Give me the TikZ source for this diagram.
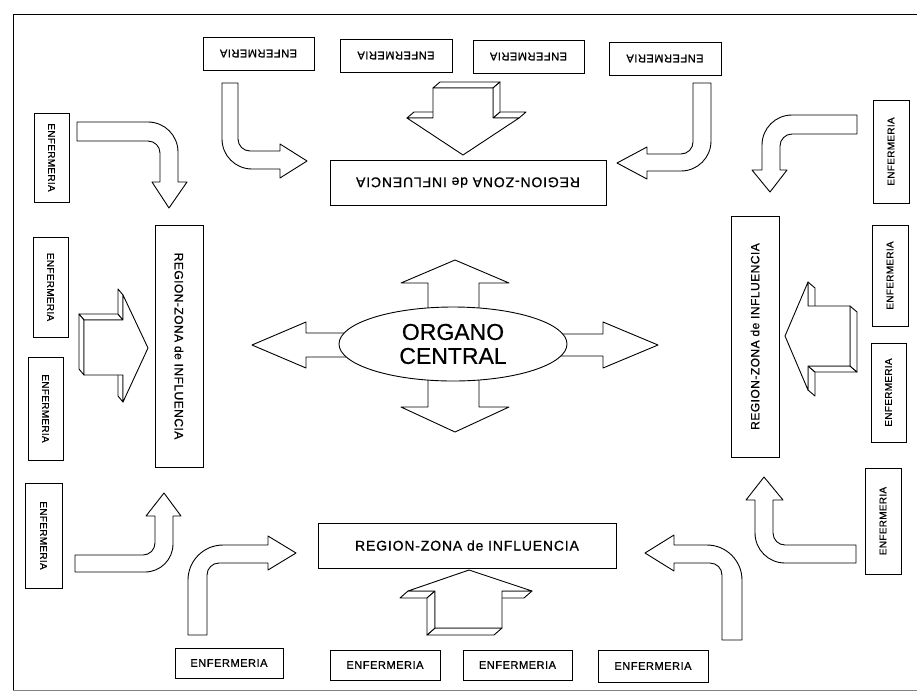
\documentclass[tikz,border=0pt]{standalone}
\usepackage{fontspec}
\usepackage{graphicx}
\setmainfont{Liberation Sans}
\newfontfamily\enffont[LetterSpace=5,FakeBold=0.8]{Liberation Sans}
\newfontfamily\enfsidefont[LetterSpace=3,FakeBold=0.8]{Liberation Sans}
\newfontfamily\regfont[LetterSpace=6,FakeBold=0.8]{Liberation Sans}
\newfontfamily\regsidefont[LetterSpace=4,FakeBold=0.8]{Liberation Sans}
\newfontfamily\ocfont[FakeBold=0.6]{Liberation Sans}
\usetikzlibrary{shapes.geometric}
\tikzset{
  ln/.style={line width=0.9pt},
  enfbox/.style={draw, ln, fill=white, inner sep=0pt, font=\enffont\fontsize{11}{13}\selectfont},
  enfside/.style={enfbox, font=\enfsidefont\fontsize{10}{12}\selectfont},
  regbox/.style={draw, ln, fill=white, inner sep=0pt, font=\regfont\fontsize{14}{16}\selectfont},
  regside/.style={regbox, font=\regsidefont\fontsize{12}{14}\selectfont},
  blk/.style={draw, ln, fill=white, line join=round},
  frameline/.style={line width=0.7pt},
}
\begin{document}
\begin{tikzpicture}[x=1pt,y=-1pt]
\useasboundingbox (0,0) rectangle (917,697);
% frame
\draw[frameline] (13,690) -- (13,14) -- (917,14);
\draw[frameline, gray] (13,690) -- (917,690);

% ---------- top ----------
\node[enfbox, minimum width=111, minimum height=33] (t1) at (258.5,53.5) {\rotatebox{180}{ENFERMERIA}};
\node[enfbox, minimum width=112, minimum height=33] (t2) at (396,55.5) {\rotatebox{180}{ENFERMERIA}};
\node[enfbox, minimum width=111, minimum height=33] (t3) at (528.5,56.5) {\rotatebox{180}{ENFERMERIA}};
\node[enfbox, minimum width=112, minimum height=33] (t4) at (665,58.5) {\rotatebox{180}{ENFERMERIA}};
\node[regbox, minimum width=276, minimum height=45] (rt) at (468,182.5) {\rotatebox{180}{REGION-ZONA de INFLUENCIA}};

% top-left curved arrow
\draw[blk] (222,83) -- (238,83) -- (238,139) .. controls (238,145.6) and (243.4,151) .. (250,151)
  -- (280,151) -- (280,144) -- (307,161) -- (280,178) -- (280,169) -- (252,169)
  .. controls (235.4,169) and (222,155.6) .. (222,139) -- cycle;
% top-right curved arrow
\draw[blk] (693,83) -- (711,83) -- (711,141) .. controls (711,157.6) and (697.6,171) .. (681,171)
  -- (647,171) -- (647,179) -- (617,163) -- (647,147) -- (647,154) -- (681,154)
  .. controls (687.6,154) and (693,148.6) .. (693,142) -- cycle;
% top 3D arrow (down)
\draw[blk] (407,118) -- (433,118) -- (440,112) -- (414,112) -- cycle;
\draw[blk] (433,88) -- (493,88) -- (500,82) -- (440,82) -- cycle;
\draw[blk] (493,118) -- (519,118) -- (526,112) -- (500,112) -- cycle;
\draw[blk] (493,88) -- (493,118) -- (500,112) -- (500,82) -- cycle;
\draw[blk] (433,88) -- (493,88) -- (493,118) -- (519,118) -- (463,155) -- (407,118) -- (433,118) -- cycle;

% ---------- left ----------
\node[enfside, minimum width=35, minimum height=89] (l1) at (51.5,157.5) {\rotatebox{-90}{ENFERMERIA}};
\node[enfside, minimum width=35, minimum height=100] (l2) at (50.5,287) {\rotatebox{-90}{ENFERMERIA}};
\node[enfside, minimum width=35, minimum height=103] (l3) at (45.5,408.5) {\rotatebox{-90}{ENFERMERIA}};
\node[enfside, minimum width=37, minimum height=105] (l4) at (43.5,535.5) {\rotatebox{-90}{ENFERMERIA}};
\node[regside, minimum width=48, minimum height=242] (rl) at (179,346) {\rotatebox{-90}{REGION-ZONA de INFLUENCIA}};

% left-top curved arrow
\draw[blk] (77,122) -- (148,122) .. controls (164.6,122) and (178,135.4) .. (178,152)
  -- (178,182) -- (187,182) -- (169,208) -- (152,182) -- (160,182) -- (160,153)
  .. controls (160,146.4) and (154.6,141) .. (148,141) -- (77,141) -- cycle;
% left-bottom curved arrow
\draw[blk] (75,555) -- (143,555) .. controls (149.6,555) and (155,549.6) .. (155,543)
  -- (155,516) -- (146,516) -- (164,493) -- (181,516) -- (173,516) -- (173,544)
  .. controls (173,559.5) and (160.5,572) .. (145,572) -- (75,572) -- cycle;
% left 3D arrow (right)
\draw[blk] (123,375) -- (123,402) -- (118,396) -- (118,369) -- cycle;
\draw[blk] (84,320) -- (123,320) -- (118,314) -- (79,314) -- cycle;
\draw[blk] (123,295) -- (123,320) -- (118,314) -- (118,289) -- cycle;
\draw[blk] (84,320) -- (84,375) -- (79,369) -- (79,314) -- cycle;
\draw[blk] (148,348) -- (123,295) -- (123,320) -- (84,320) -- (84,375) -- (123,375) -- (123,402) -- cycle;

% ---------- right ----------
\node[enfside, minimum width=36, minimum height=103] (r1) at (891,151.5) {\rotatebox{90}{ENFERMERIA}};
\node[enfside, minimum width=36, minimum height=101] (r2) at (890,275.5) {\rotatebox{90}{ENFERMERIA}};
\node[enfside, minimum width=35, minimum height=99] (r3) at (888.5,392.5) {\rotatebox{90}{ENFERMERIA}};
\node[enfside, minimum width=36, minimum height=106] (r4) at (883,521) {\rotatebox{90}{ENFERMERIA}};
\node[regside, minimum width=48, minimum height=241] (rr) at (755,336.5) {\rotatebox{90}{REGION-ZONA de INFLUENCIA}};

% right-top curved arrow
\draw[blk] (857,115) -- (792,115) .. controls (775.4,115) and (762,128.4) .. (762,145)
  -- (762,170) -- (752,170) -- (770,192) -- (787,170) -- (780,170) -- (780,146)
  .. controls (780,139.4) and (785.4,134) .. (792,134) -- (857,134) -- cycle;
% right-bottom curved arrow
\draw[blk] (856,545) -- (785,545) .. controls (778.4,545) and (773,539.6) .. (773,533)
  -- (773,500) -- (783,500) -- (764,477) -- (746,500) -- (755,500) -- (755,533)
  .. controls (755,549.6) and (768.4,563) .. (785,563) -- (856,563) -- cycle;
% right 3D arrow (left)
\draw[blk] (808,282) -- (808,306) -- (815,312) -- (815,288) -- cycle;
\draw[blk] (808,366) -- (808,390) -- (815,396) -- (815,372) -- cycle;
\draw[blk] (808,366) -- (850,366) -- (857,372) -- (815,372) -- cycle;
\draw[blk] (850,306) -- (850,366) -- (857,372) -- (857,312) -- cycle;
\draw[blk] (785,336) -- (808,282) -- (808,306) -- (850,306) -- (850,366) -- (808,366) -- (808,390) -- cycle;

% ---------- bottom ----------
\node[enfbox, minimum width=108, minimum height=30] (b1) at (229,663) {ENFERMERIA};
\node[enfbox, minimum width=110, minimum height=30] (b2) at (385,665) {ENFERMERIA};
\node[enfbox, minimum width=109, minimum height=30] (b3) at (517.5,665) {ENFERMERIA};
\node[enfbox, minimum width=110, minimum height=32] (b4) at (653,666) {ENFERMERIA};
\node[regbox, minimum width=298, minimum height=45] (rb) at (467,545.5) {REGION-ZONA de INFLUENCIA};

% bottom-left curved arrow
\draw[blk] (188,635) -- (188,580) .. controls (188,560.7) and (203.7,545) .. (223,545)
  -- (268,545) -- (268,536) -- (296,553) -- (268,570) -- (268,563) -- (219,563)
  .. controls (212.4,563) and (207,568.4) .. (207,575) -- (207,635) -- cycle;
% bottom-right curved arrow
\draw[blk] (742,640) -- (742,580) .. controls (742,560.7) and (726.3,545) .. (707,545)
  -- (674,545) -- (674,535) -- (645,553) -- (674,571) -- (674,563) -- (710,563)
  .. controls (716.6,563) and (722,568.4) .. (722,575) -- (722,640) -- cycle;
% bottom 3D arrow (up)
\draw[blk] (502,591) -- (532,591) -- (524,598) -- (494,598) -- cycle;
\draw[blk] (408,591) -- (435,591) -- (427,598) -- (400,598) -- cycle;
\draw[blk] (435,628) -- (502,628) -- (494,635) -- (427,635) -- cycle;
\draw[blk] (435,591) -- (435,628) -- (427,635) -- (427,598) -- cycle;
\draw[blk] (469,570) -- (532,591) -- (502,591) -- (502,628) -- (435,628) -- (435,591) -- (408,591) -- cycle;

% ---------- centre ----------
\draw[blk] (428,325) -- (428,283) -- (401,283) -- (455,260) -- (509,283) -- (479,283) -- (479,325) -- cycle;
\draw[blk] (428,365) -- (428,407) -- (401,407) -- (455,432) -- (509,407) -- (479,407) -- (479,365) -- cycle;
\draw[blk] (360,333) -- (306,333) -- (306,322) -- (252,345) -- (306,368) -- (306,357) -- (360,357) -- cycle;
\draw[blk] (545,334) -- (603,334) -- (603,322) -- (658,345) -- (603,368) -- (603,356) -- (545,356) -- cycle;
\node[ellipse, draw, ln, fill=white, minimum width=228, minimum height=74, inner sep=0pt,
  align=center, font=\ocfont\fontsize{23}{24}\selectfont] (oc) at (453,344) {ORGANO\\CENTRAL};
\end{tikzpicture}
\end{document}
